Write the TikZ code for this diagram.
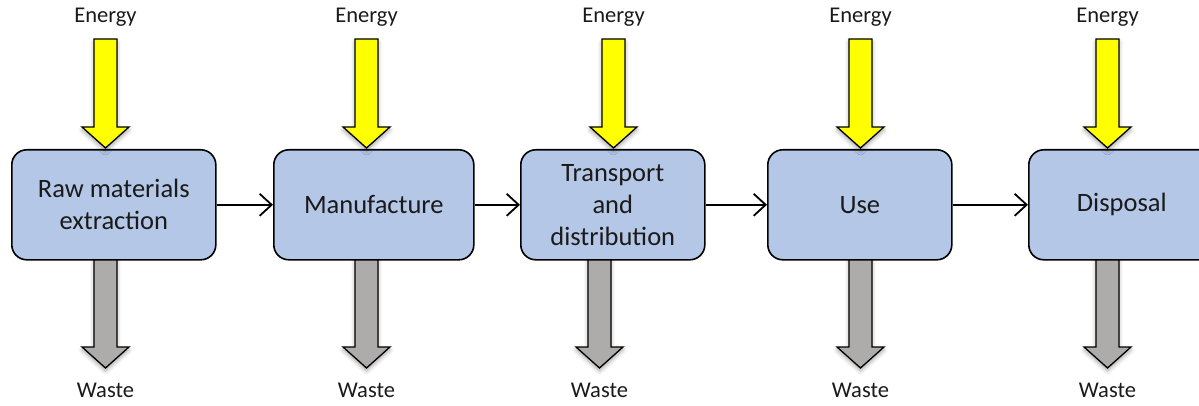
\documentclass[tikz,border=0pt]{standalone}
\usepackage{fontspec}
\setmainfont{Carlito}
\usetikzlibrary{arrows.meta,shadows.blur}
\definecolor{boxblue}{HTML}{B4C7E7}
\definecolor{wastegray}{HTML}{AEABAB}
\definecolor{energyyellow}{HTML}{FFFF00}
\definecolor{inkblack}{HTML}{1A1A1A}
\begin{document}
\begin{tikzpicture}[x=1pt,y=-1pt,
  stage/.style={draw=black, line width=1.6pt, fill=boxblue, rounded corners=15pt,
    align=center, font=\fontsize{26.5}{32}\selectfont, text=inkblack, inner sep=0pt,
    anchor=north west, minimum height=110pt},
  flowlabel/.style={font=\fontsize{22.5}{26}\selectfont, text=inkblack, anchor=base, inner sep=0pt},
  blockarrow/.style={draw=black, line width=1.3pt, line join=miter,
    blur shadow={shadow xshift=0pt, shadow yshift=-3pt, shadow blur radius=4pt, shadow opacity=35}},
  energy/.style={blockarrow, fill=energyyellow},
  waste/.style={blockarrow, fill=wastegray},
  flow/.style={line width=1.8pt, -{Straight Barb[length=12pt,width=22pt,line width=1.8pt]}}
]
\useasboundingbox (0,0) rectangle (1199,406);
% waste arrows (behind boxes)
\foreach \n/\x in {1/105.5, 2/366.5, 3/599.5, 4/860.5, 5/1107.5} {
  \draw[waste] (\x-11.5,252) -- (\x+11.5,252) -- (\x+11.5,347) -- (\x+23.5,347)
     -- (\x,368) -- (\x-23.5,347) -- (\x-11.5,347) -- cycle;
  \node[flowlabel] (w\n) at (\x,397) {Waste};
}
% stages
\node[stage, minimum width=204pt] (b1) at (11,149) {Raw materials\\extraction};
\node[stage, minimum width=200pt] (b2) at (273,149) {Manufacture};
\node[stage, minimum width=184pt] (b3) at (520,149) {Transport\\and\\distribution};
\node[stage, minimum width=184pt] (b4) at (767,149) {Use};
\node[stage, minimum width=186pt] (b5) at (1028,149) {Disposal};
% connectors
\draw[flow] (b1) -- (b2);
\draw[flow] (b2) -- (b3);
\draw[flow] (b3) -- (b4);
\draw[flow] (b4) -- (b5);
% energy arrows
\foreach \n/\x in {1/105.5, 2/366.5, 3/613.5, 4/860.5, 5/1107.5} {
  \node[flowlabel] (e\n) at (\x,23) {Energy};
  \draw[energy] (\x-11.5,39) -- (\x+11.5,39) -- (\x+11.5,127) -- (\x+23.5,127)
     -- (\x,148) -- (\x-23.5,127) -- (\x-11.5,127) -- cycle;
}
\end{tikzpicture}
\end{document}
